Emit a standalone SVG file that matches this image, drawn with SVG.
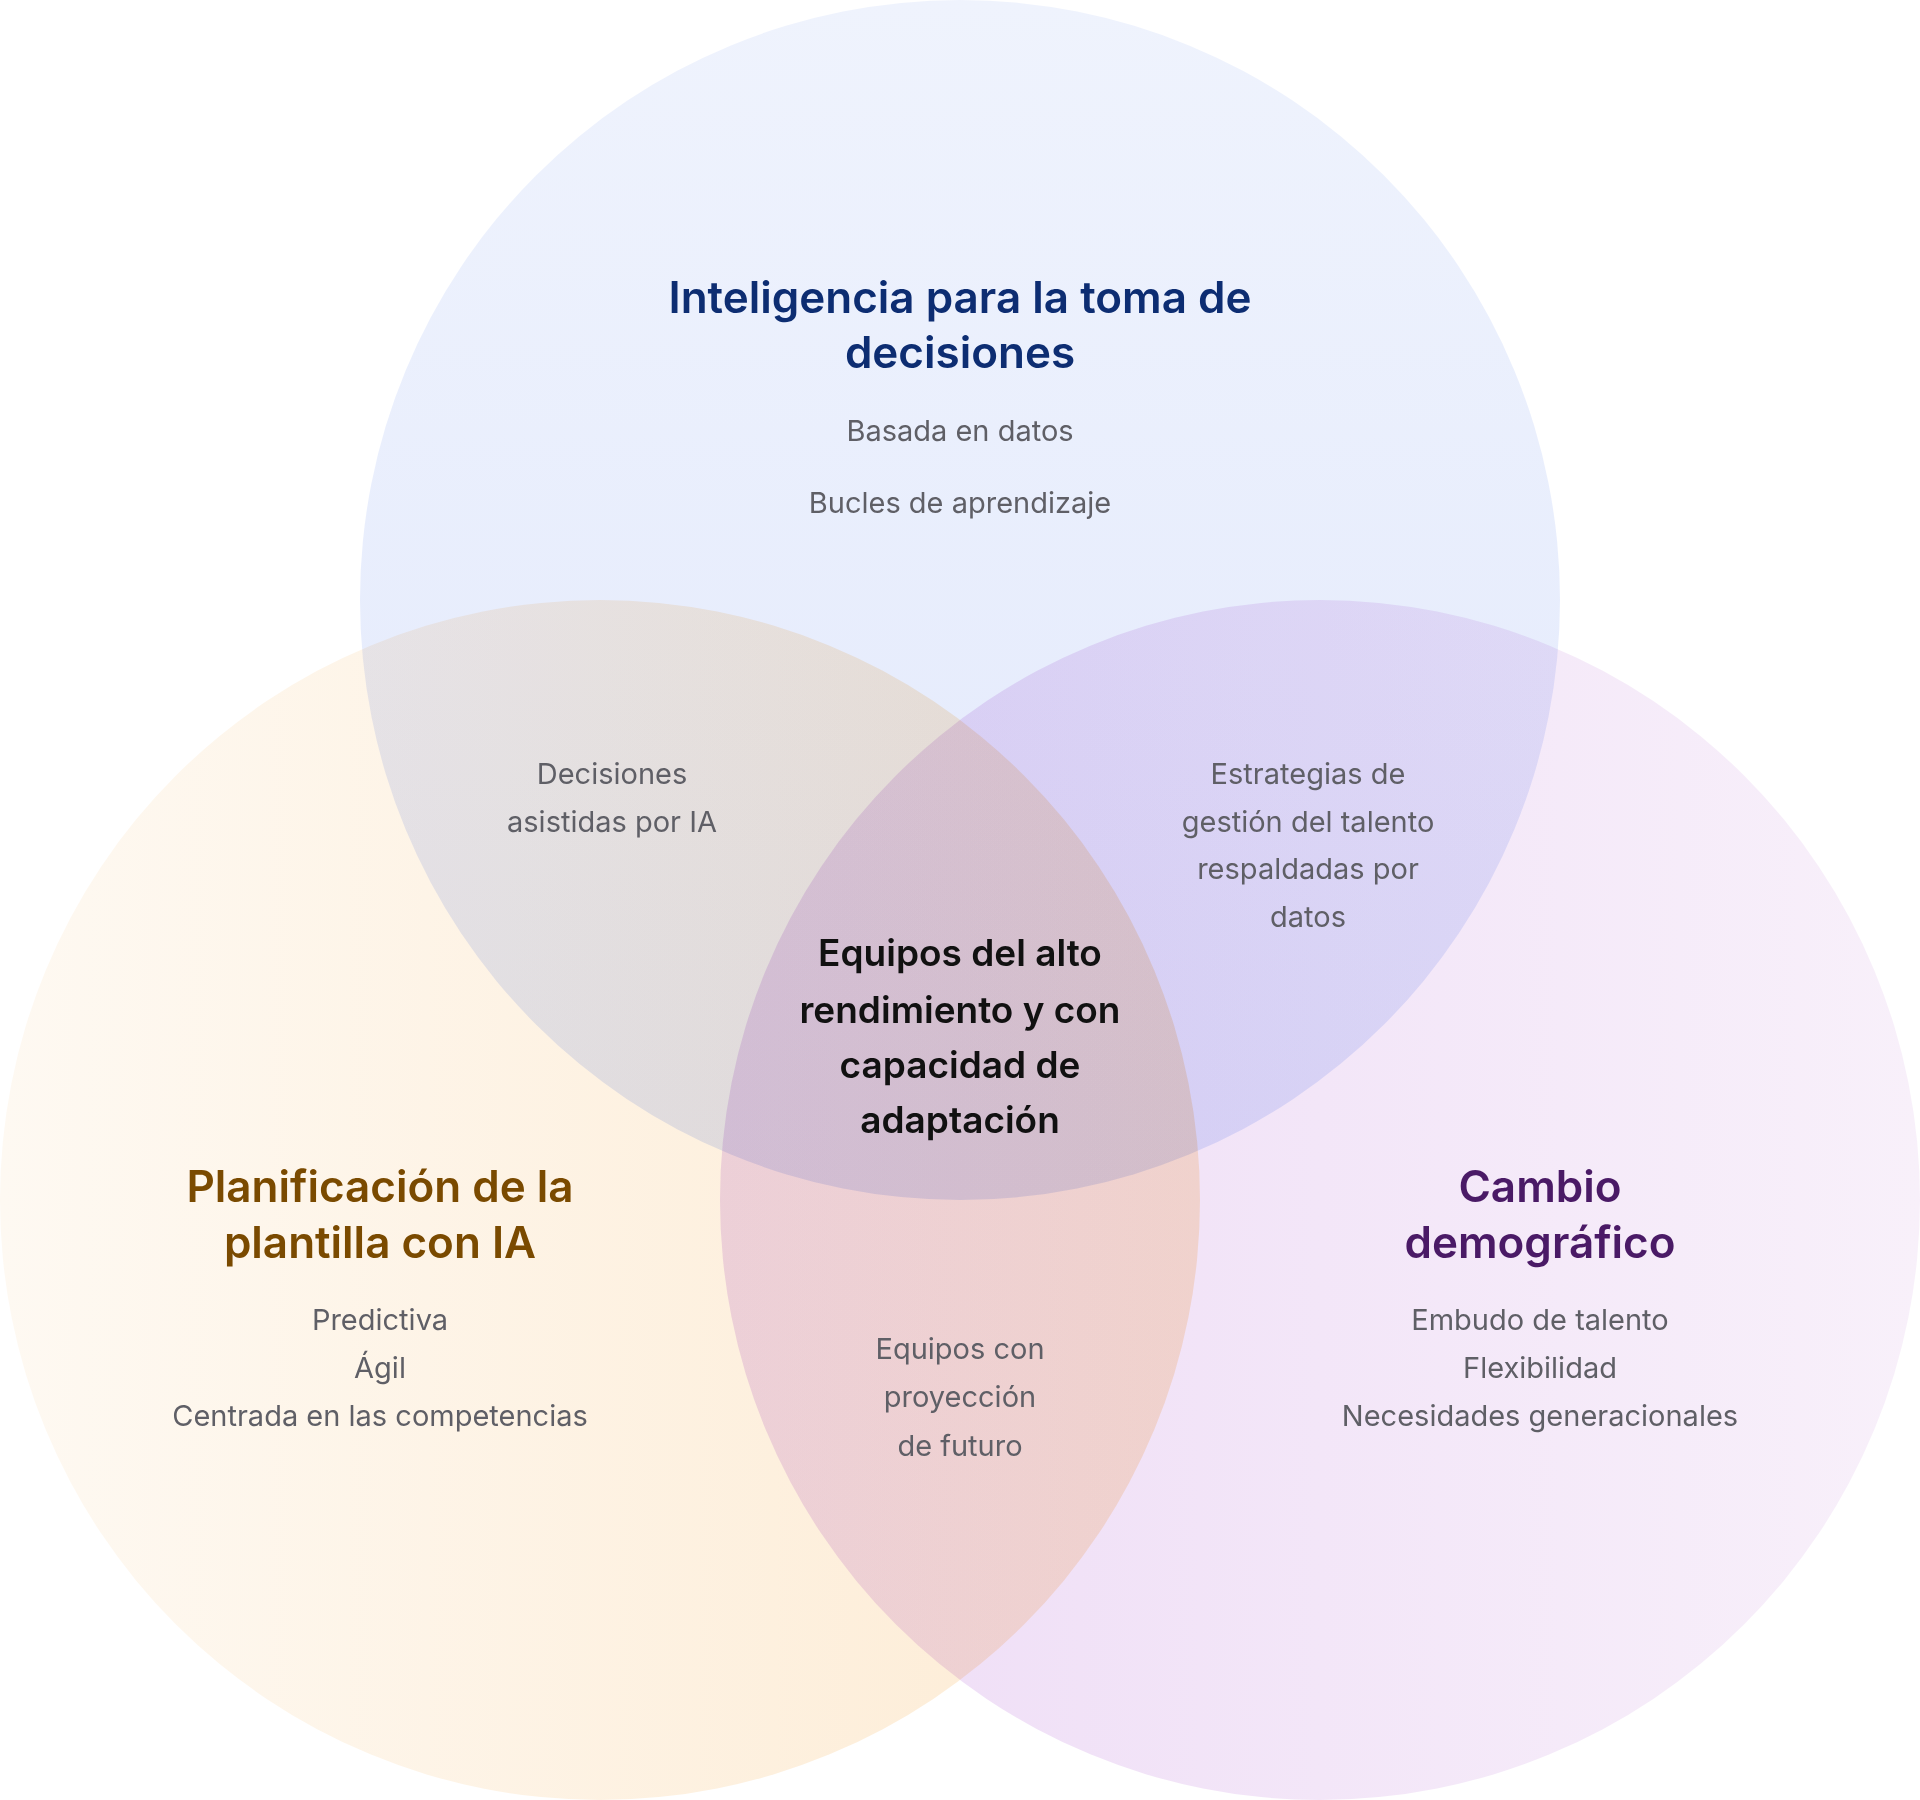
<svg xmlns="http://www.w3.org/2000/svg" width="1920" height="1800" viewBox="0 0 1920 1800">
<style>
.c{mix-blend-mode:multiply}
text{font-family:Inter,"Noto Sans",sans-serif;text-anchor:middle}
.t{font-size:44px;font-weight:600}
.s{font-size:29px;fill:#5f5f66}
.m{font-size:37px;font-weight:600;fill:#111}
</style>
<defs>
<linearGradient id="gt" x1="0" y1="0" x2="0" y2="1"><stop offset="0" stop-color="#eff3fd"/><stop offset="1" stop-color="#e1e8fc"/></linearGradient>
<linearGradient id="gl" x1="0" y1="0" x2="1" y2="0"><stop offset="0" stop-color="#fef9f2"/><stop offset="1" stop-color="#fdebd3"/></linearGradient>
<linearGradient id="gr" x1="1" y1="0" x2="0" y2="0"><stop offset="0" stop-color="#f8f0fa"/><stop offset="1" stop-color="#eedcf6"/></linearGradient>
</defs>
<rect width="1920" height="1800" fill="#fff"/>
<g id="circles">
<circle id="top" class="c" cx="960" cy="600" r="600" fill="url(#gt)"/>
<circle id="left" class="c" cx="600" cy="1200" r="600" fill="url(#gl)"/>
<circle id="right" class="c" cx="1320" cy="1200" r="600" fill="url(#gr)"/>
</g>
<g id="n-top">
<text class="t" x="960" y="313" fill="#0d2d72">Inteligencia para la toma de</text>
<text class="t" x="960" y="368" fill="#0d2d72">decisiones</text>
<text class="s" x="960" y="441">Basada en datos</text>
<text class="s" x="960" y="513">Bucles de aprendizaje</text>
</g>
<g id="n-tl">
<text class="s" x="612" y="784">Decisiones</text>
<text class="s" x="612" y="832">asistidas por IA</text>
</g>
<g id="n-tr">
<text class="s" x="1308" y="784">Estrategias de</text>
<text class="s" x="1308" y="832">gestión del talento</text>
<text class="s" x="1308" y="879">respaldadas por</text>
<text class="s" x="1308" y="927">datos</text>
</g>
<g id="n-center">
<text class="m" x="960" y="966">Equipos del alto</text>
<text class="m" x="960" y="1023">rendimiento y con</text>
<text class="m" x="960" y="1078">capacidad de</text>
<text class="m" x="960" y="1133">adaptación</text>
</g>
<g id="n-left">
<text class="t" x="380" y="1202" fill="#7a4a00">Planificación de la</text>
<text class="t" x="380" y="1258" fill="#7a4a00">plantilla con IA</text>
<text class="s" x="380" y="1330">Predictiva</text>
<text class="s" x="380" y="1378">Ágil</text>
<text class="s" x="380" y="1426">Centrada en las competencias</text>
</g>
<g id="n-right">
<text class="t" x="1540" y="1202" fill="#4a1a66">Cambio</text>
<text class="t" x="1540" y="1258" fill="#4a1a66">demográfico</text>
<text class="s" x="1540" y="1330">Embudo de talento</text>
<text class="s" x="1540" y="1378">Flexibilidad</text>
<text class="s" x="1540" y="1426">Necesidades generacionales</text>
</g>
<g id="n-bottom">
<text class="s" x="960" y="1359">Equipos con</text>
<text class="s" x="960" y="1407">proyección</text>
<text class="s" x="960" y="1456">de futuro</text>
</g>
<g id="connectors"/>
</svg>
